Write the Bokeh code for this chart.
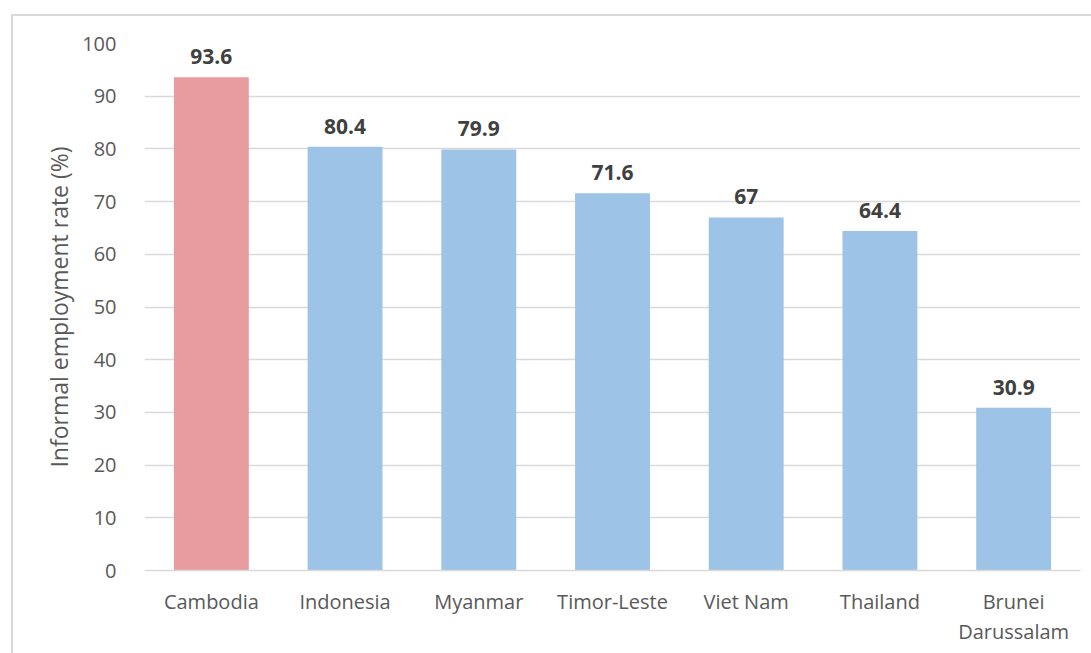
from bokeh.plotting import figure
from bokeh.models import ColumnDataSource, FactorRange, Range1d, FixedTicker
from bokeh.core.properties import value
from bokeh.embed import file_html
from bokeh.resources import INLINE

countries = ["Cambodia", "Indonesia", "Myanmar", "Timor-Leste", "Viet Nam", "Thailand", "Brunei\nDarussalam"]
rates = [93.6, 80.4, 79.9, 71.6, 67, 64.4, 30.9]
highlight = "Cambodia"
y_ticks = [0, 10, 20, 30, 40, 50, 60, 70, 80, 90, 100]

PINK = "#E89CA0"
BLUE = "#9DC3E6"
FONT = "Open Sans"

colors = [PINK if c == highlight else BLUE for c in countries]
labels = [("%g" % r) for r in rates]
source = ColumnDataSource(dict(country=countries, rate=rates, color=colors, label=labels))

p = figure(
    width=1080, height=639,
    x_range=FactorRange(*countries, range_padding=0),
    y_range=Range1d(0, 100),
    output_backend="svg", toolbar_location=None,
    min_border_left=131, min_border_right=13, min_border_top=27, min_border_bottom=85,
)
p.styles = {
    "margin-left": "11px",
    "margin-top": "14px",
    "border-left": "2px solid #d9d9d9",
    "border-top": "2px solid #d9d9d9",
}

p.vbar(x="country", top="rate", width=0.56, color="color", source=source, line_color=None)
p.text(x="country", y="rate", text="label", source=source,
       text_align="center", text_baseline="bottom", y_offset=-13,
       text_font=value(FONT), text_font_size="21px", text_font_style="bold",
       text_color="#404040")

p.outline_line_color = None
p.background_fill_color = "white"
p.border_fill_color = "white"

p.xgrid.grid_line_color = None
p.ygrid.grid_line_color = "#d9d9d9"
p.ygrid.grid_line_width = 1.5
p.ygrid.ticker = FixedTicker(ticks=y_ticks)

p.yaxis.ticker = FixedTicker(ticks=y_ticks)
p.yaxis.axis_line_color = None
p.yaxis.major_tick_line_color = None
p.yaxis.minor_tick_line_color = None
p.yaxis.major_label_standoff = 22
p.yaxis.major_label_text_font = FONT
p.yaxis.major_label_text_font_size = "20px"
p.yaxis.major_label_text_color = "#595959"
p.yaxis.axis_label = "Informal employment rate (%)"
p.yaxis.axis_label_text_font = FONT
p.yaxis.axis_label_text_font_size = "23px"
p.yaxis.axis_label_text_font_style = "normal"
p.yaxis.axis_label_text_color = "#595959"
p.yaxis.axis_label_standoff = 4

p.xaxis.axis_line_color = "#d9d9d9"
p.xaxis.axis_line_width = 1.5
p.xaxis.major_tick_line_color = None
p.xaxis.minor_tick_line_color = None
p.xaxis.major_label_standoff = 11
p.xaxis.major_label_text_font = FONT
p.xaxis.major_label_text_font_size = "20px"
p.xaxis.major_label_text_line_height = 1.12
p.xaxis.major_label_text_color = "#595959"

open("out.html", "w").write(file_html(p, INLINE))
